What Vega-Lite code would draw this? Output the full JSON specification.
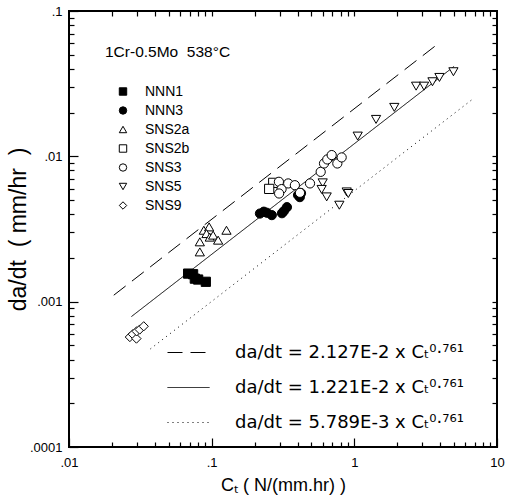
{
  "$schema": "https://vega.github.io/schema/vega-lite/v6.json",
  "width": 428,
  "height": 436,
  "autosize": "none",
  "padding": {"left": 69, "top": 11, "right": 16, "bottom": 50},
  "background": "white",
  "config": {
    "font": "Liberation Sans",
    "view": {"stroke": "black", "strokeWidth": 2, "fill": null},
    "axis": {"domain": false, "grid": false, "ticks": true, "tickColor": "black", "tickWidth": 1.2, "tickOpacity": 1, "zindex": 2, "labelColor": "black", "titleColor": "black", "labelFont": "Liberation Sans", "titleFont": "Liberation Sans"},
    "legend": {"labelColor": "black", "titleColor": "black", "labelFont": "Liberation Sans", "titleFont": "Liberation Sans"}
  },
  "resolve": {"axis": {"x": "independent", "y": "independent"}},
  "layer": [
    {
      "data": {"values": [
        {"fit": "da/dt = 2.127E-2 x Cₜ⁰·⁷⁶¹", "x": 0.0206, "y": 0.001108},
        {"fit": "da/dt = 2.127E-2 x Cₜ⁰·⁷⁶¹", "x": 3.7, "y": 0.05757},
        {"fit": "da/dt = 1.221E-2 x Cₜ⁰·⁷⁶¹", "x": 0.0274, "y": 0.00079},
        {"fit": "da/dt = 1.221E-2 x Cₜ⁰·⁷⁶¹", "x": 5.0, "y": 0.04156},
        {"fit": "da/dt = 5.789E-3 x Cₜ⁰·⁷⁶¹", "x": 0.0372, "y": 0.000473},
        {"fit": "da/dt = 5.789E-3 x Cₜ⁰·⁷⁶¹", "x": 6.66, "y": 0.0245}
      ]},
      "mark": {"type": "line", "color": "black", "strokeWidth": 1},
      "encoding": {
        "x": {"field": "x", "type": "quantitative",
          "scale": {"type": "log", "domain": [0.01, 10], "nice": false},
          "axis": {"orient": "bottom", "offset": -9, "values": [0.01, 0.1, 1, 10], "labelExpr": "replace(format(datum.value, '~g'), '0.', '.')", "tickSize": 9, "labelPadding": 9, "labelFontSize": 13, "labelFlush": false, "title": "Cₜ ( N/(mm.hr) )", "titleFontSize": 18, "titleFontWeight": "normal", "titlePadding": 7}},
        "y": {"field": "y", "type": "quantitative",
          "scale": {"type": "log", "domain": [0.0001, 0.1], "nice": false},
          "axis": {"orient": "left", "offset": -9, "values": [0.0001, 0.001, 0.01, 0.1], "labelExpr": "replace(format(datum.value, '~g'), '0.', '.')", "tickSize": 9, "labelPadding": 7, "labelFontSize": 13, "labelFlush": false, "title": "da/dt\u00a0\u00a0(\u00a0mm/hr\u00a0\u00a0)", "titleFontSize": 23, "titleFontWeight": "normal", "titlePadding": -1}},
        "detail": {"field": "fit"},
        "strokeDash": {"field": "fit", "type": "nominal",
          "scale": {"domain": ["da/dt = 2.127E-2 x Cₜ⁰·⁷⁶¹", "da/dt = 1.221E-2 x Cₜ⁰·⁷⁶¹", "da/dt = 5.789E-3 x Cₜ⁰·⁷⁶¹"], "range": [[15, 8], [1, 0], [1, 4]]},
          "legend": {"orient": "none", "legendX": 98, "legendY": 320, "title": null, "padding": 0, "labelFont": "DejaVu Sans", "labelFontSize": 18, "labelLimit": 400, "symbolType": "stroke", "symbolSize": 1764, "symbolStrokeWidth": 1, "symbolStrokeColor": "black", "labelOffset": 25, "rowPadding": 4}}
      }
    },
    {
      "data": {"values": [
        {"series": "NNN1", "x": 0.0684, "y": 0.00156},
        {"series": "NNN1", "x": 0.0741, "y": 0.001545},
        {"series": "NNN1", "x": 0.0762, "y": 0.00144},
        {"series": "NNN1", "x": 0.0804, "y": 0.00142},
        {"series": "NNN1", "x": 0.091, "y": 0.00137},
        {"series": "NNN3", "x": 0.218, "y": 0.00404},
        {"series": "NNN3", "x": 0.232, "y": 0.00416},
        {"series": "NNN3", "x": 0.244, "y": 0.00409},
        {"series": "NNN3", "x": 0.264, "y": 0.00394},
        {"series": "NNN3", "x": 0.311, "y": 0.00406},
        {"series": "NNN3", "x": 0.321, "y": 0.0042},
        {"series": "NNN3", "x": 0.337, "y": 0.00447},
        {"series": "NNN3", "x": 0.403, "y": 0.00541},
        {"series": "NNN3", "x": 0.423, "y": 0.00558},
        {"series": "NNN3", "x": 0.415, "y": 0.00524},
        {"series": "SNS2a", "x": 0.0826, "y": 0.0022},
        {"series": "SNS2a", "x": 0.0826, "y": 0.00258},
        {"series": "SNS2a", "x": 0.0881, "y": 0.0031},
        {"series": "SNS2a", "x": 0.096, "y": 0.00327},
        {"series": "SNS2a", "x": 0.092, "y": 0.00294},
        {"series": "SNS2a", "x": 0.097, "y": 0.00278},
        {"series": "SNS2a", "x": 0.1024, "y": 0.00287},
        {"series": "SNS2a", "x": 0.111, "y": 0.00265},
        {"series": "SNS2a", "x": 0.127, "y": 0.0031},
        {"series": "SNS2b", "x": 0.27, "y": 0.00657},
        {"series": "SNS2b", "x": 0.253, "y": 0.00597},
        {"series": "SNS3", "x": 0.296, "y": 0.00668},
        {"series": "SNS3", "x": 0.309, "y": 0.00595},
        {"series": "SNS3", "x": 0.297, "y": 0.00555},
        {"series": "SNS3", "x": 0.344, "y": 0.00651},
        {"series": "SNS3", "x": 0.383, "y": 0.00633},
        {"series": "SNS3", "x": 0.416, "y": 0.00561},
        {"series": "SNS3", "x": 0.489, "y": 0.00651},
        {"series": "SNS3", "x": 0.581, "y": 0.00782},
        {"series": "SNS3", "x": 0.613, "y": 0.00893},
        {"series": "SNS3", "x": 0.646, "y": 0.00952},
        {"series": "SNS3", "x": 0.694, "y": 0.0102},
        {"series": "SNS3", "x": 0.76, "y": 0.00893},
        {"series": "SNS3", "x": 0.815, "y": 0.00983},
        {"series": "SNS5", "x": 0.6, "y": 0.00657},
        {"series": "SNS5", "x": 0.59, "y": 0.00592},
        {"series": "SNS5", "x": 0.64, "y": 0.00526},
        {"series": "SNS5", "x": 0.785, "y": 0.00461},
        {"series": "SNS5", "x": 0.884, "y": 0.00569},
        {"series": "SNS5", "x": 0.907, "y": 0.00555},
        {"series": "SNS5", "x": 1.056, "y": 0.01378},
        {"series": "SNS5", "x": 1.42, "y": 0.01795},
        {"series": "SNS5", "x": 1.906, "y": 0.02172},
        {"series": "SNS5", "x": 2.71, "y": 0.0304},
        {"series": "SNS5", "x": 3.08, "y": 0.0304},
        {"series": "SNS5", "x": 3.53, "y": 0.0326},
        {"series": "SNS5", "x": 3.95, "y": 0.0349},
        {"series": "SNS5", "x": 4.95, "y": 0.0382},
        {"series": "SNS9", "x": 0.0267, "y": 0.000571},
        {"series": "SNS9", "x": 0.028, "y": 0.000597},
        {"series": "SNS9", "x": 0.0297, "y": 0.000557},
        {"series": "SNS9", "x": 0.0298, "y": 0.000625},
        {"series": "SNS9", "x": 0.0313, "y": 0.000643},
        {"series": "SNS9", "x": 0.0334, "y": 0.000677}
      ]},
      "mark": {"type": "point", "filled": true, "strokeWidth": 1, "size": 85, "opacity": 1},
      "encoding": {
        "x": {"field": "x", "type": "quantitative",
          "axis": {"orient": "bottom", "offset": -5, "values": [0.02,0.03,0.04,0.05,0.06,0.07,0.08,0.09,0.2,0.3,0.4,0.5,0.6,0.7,0.8,0.9,2,3,4,5,6,7,8,9], "labels": false, "tickSize": 5, "title": null}},
        "y": {"field": "y", "type": "quantitative",
          "axis": {"orient": "left", "offset": -5, "values": [0.0002,0.0003,0.0004,0.0005,0.0006,0.0007,0.0008,0.0009,0.002,0.003,0.004,0.005,0.006,0.007,0.008,0.009,0.02,0.03,0.04,0.05,0.06,0.07,0.08,0.09], "labels": false, "tickSize": 5, "title": null}},
        "fill": {"field": "series", "type": "nominal",
          "scale": {"domain": ["NNN1","NNN3","SNS2a","SNS2b","SNS3","SNS5","SNS9"], "range": ["black","black","white","white","white","white","white"]},
          "legend": {"orient": "none", "legendX": 36, "legendY": 34, "title": "1Cr-0.5Mo\u00a0\u00a0538°C", "titleFontSize": 15.5, "titleFontWeight": "normal", "titlePadding": 24, "labelFontSize": 14, "symbolOffset": 11, "labelOffset": 15, "rowPadding": 5, "padding": 0, "symbolSize": 55, "symbolStrokeWidth": 1}},
        "stroke": {"field": "series", "type": "nominal",
          "scale": {"domain": ["NNN1","NNN3","SNS2a","SNS2b","SNS3","SNS5","SNS9"], "range": ["black","black","black","black","black","black","black"]},
          "legend": {"orient": "none", "legendX": 36, "legendY": 34, "title": "1Cr-0.5Mo\u00a0\u00a0538°C", "titleFontSize": 15.5, "titleFontWeight": "normal", "titlePadding": 24, "labelFontSize": 14, "symbolOffset": 11, "labelOffset": 15, "rowPadding": 5, "padding": 0, "symbolSize": 55, "symbolStrokeWidth": 1}},
        "shape": {"field": "series", "type": "nominal",
          "scale": {"domain": ["NNN1","NNN3","SNS2a","SNS2b","SNS3","SNS5","SNS9"], "range": ["square","circle","triangle-up","square","circle","triangle-down","diamond"]},
          "legend": {"orient": "none", "legendX": 36, "legendY": 34, "title": "1Cr-0.5Mo\u00a0\u00a0538°C", "titleFontSize": 15.5, "titleFontWeight": "normal", "titlePadding": 24, "labelFontSize": 14, "symbolOffset": 11, "labelOffset": 15, "rowPadding": 5, "padding": 0, "symbolSize": 55, "symbolStrokeWidth": 1}}
      }
    },
    {
      "data": {"values": [{"x": 1, "y": 0.01}]},
      "mark": {"type": "point", "opacity": 0},
      "encoding": {
        "x": {"field": "x", "type": "quantitative",
          "axis": {"orient": "top", "offset": -5, "values": [0.02,0.03,0.04,0.05,0.06,0.07,0.08,0.09,0.1,0.2,0.3,0.4,0.5,0.6,0.7,0.8,0.9,1,2,3,4,5,6,7,8,9], "labels": false, "tickSize": 5, "title": null}},
        "y": {"field": "y", "type": "quantitative",
          "axis": {"orient": "right", "offset": -5, "values": [0.0002,0.0003,0.0004,0.0005,0.0006,0.0007,0.0008,0.0009,0.001,0.002,0.003,0.004,0.005,0.006,0.007,0.008,0.009,0.01,0.02,0.03,0.04,0.05,0.06,0.07,0.08,0.09], "labels": false, "tickSize": 5, "title": null}}
      }
    }
  ]
}
